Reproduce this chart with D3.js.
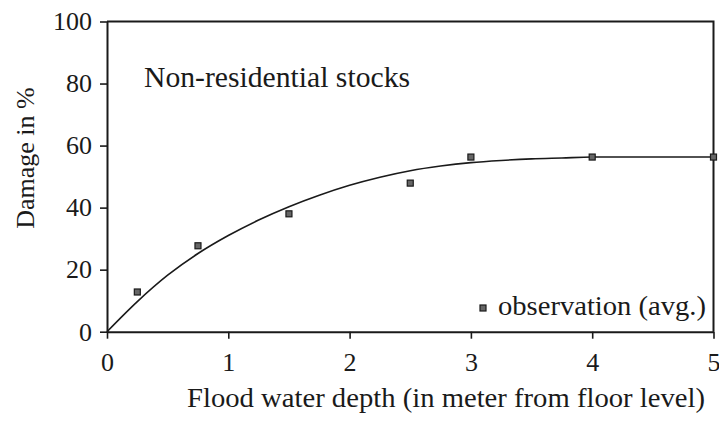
<!DOCTYPE html>
<html>
<head>
<meta charset="utf-8">
<script src="https://cdn.jsdelivr.net/npm/d3@7"></script>
<style>
  html, body { margin: 0; padding: 0; background: #fff; }
  svg { display: block; }
  text { font-family: "Liberation Serif", "Times New Roman", serif; fill: #1a1a1a; }
</style>
</head>
<body>
<svg id="chart" width="719" height="421"></svg>
<script>
// Depth-damage function for non-residential stocks
const depthTicks = [0, 1, 2, 3, 4, 5];
const damageTicks = [0, 20, 40, 60, 80, 100];

// Averaged observations (depth in m, damage in %)
const obsDepth = [0.25, 0.75, 1.5, 2.5, 3, 4, 5];
const obsDamage = [12.8, 27.7, 38, 47.9, 56.3, 56.3, 56.3];

// Fitted damage curve
const curveDepth = [0, 0.25, 0.5, 0.75, 1, 1.25, 1.5, 1.75, 2, 2.25, 2.5, 2.75, 3, 3.25, 3.5, 3.75, 4, 4.5, 5];
const curveDamage = [0, 9.7, 18.2, 25.2, 31.0, 36.0, 40.3, 44.0, 47.2, 49.8, 51.9, 53.4, 54.5, 55.2, 55.7, 56.0, 56.3, 56.3, 56.3];

const svg = d3.select("#chart");
const plotLeft = 107, plotRight = 713.5, plotTop = 21.5, plotBottom = 331.7;

const x = d3.scaleLinear().domain([0, 5]).range([plotLeft, plotRight]);
const y = d3.scaleLinear().domain([0, 100]).range([plotBottom, plotTop]);

const ink = "#1a1a1a";

// Frame (top and right edges)
svg.append("path")
  .attr("d", `M${plotLeft},${plotTop}H${plotRight}V${plotBottom}`)
  .attr("fill", "none").attr("stroke", ink).attr("stroke-width", 2);

// Y axis
const yAxis = svg.append("g")
  .attr("transform", `translate(${plotLeft},0)`)
  .call(d3.axisLeft(y).tickValues(damageTicks).tickFormat(d3.format("d"))
    .tickSize(7).tickPadding(8).tickSizeOuter(0));
yAxis.select(".domain").attr("stroke", ink).attr("stroke-width", 2);
yAxis.selectAll(".tick line").attr("stroke", ink).attr("stroke-width", 1.6);
yAxis.selectAll(".tick text").attr("font-size", 26).attr("font-family", "Liberation Serif").attr("fill", ink);

// X axis
const xAxis = svg.append("g")
  .attr("transform", `translate(0,${plotBottom})`)
  .call(d3.axisBottom(x).tickValues(depthTicks).tickFormat(d3.format("d"))
    .tickSize(7).tickPadding(14).tickSizeOuter(0));
xAxis.select(".domain").attr("stroke", ink).attr("stroke-width", 2);
xAxis.selectAll(".tick line").attr("stroke", ink).attr("stroke-width", 1.6);
xAxis.selectAll(".tick text").attr("font-size", 26).attr("font-family", "Liberation Serif").attr("fill", ink);

// Fitted curve
const curveData = curveDepth.map((d, i) => ({ d, v: curveDamage[i] }));
svg.append("path")
  .datum(curveData)
  .attr("fill", "none")
  .attr("stroke", ink)
  .attr("stroke-width", 1.6)
  .attr("d", d3.line().x(p => x(p.d)).y(p => y(p.v)).curve(d3.curveMonotoneX));

// Observation markers
const obsData = obsDepth.map((d, i) => ({ d, v: obsDamage[i] }));
const s = 6;
svg.append("g").selectAll("rect")
  .data(obsData)
  .join("rect")
  .attr("x", p => x(p.d) - s / 2)
  .attr("y", p => y(p.v) - s / 2)
  .attr("width", s).attr("height", s)
  .attr("fill", "#666").attr("stroke", ink).attr("stroke-width", 1.2);

// Panel title
svg.append("text")
  .attr("x", 144).attr("y", 87)
  .attr("font-size", 29)
  .attr("textLength", 266).attr("lengthAdjust", "spacingAndGlyphs")
  .text("Non-residential stocks");

// Legend
svg.append("rect")
  .attr("x", 483 - s / 2).attr("y", 308 - s / 2)
  .attr("width", s).attr("height", s)
  .attr("fill", "#666").attr("stroke", ink).attr("stroke-width", 1.2);
svg.append("text")
  .attr("x", 498).attr("y", 315)
  .attr("font-size", 28)
  .attr("textLength", 208).attr("lengthAdjust", "spacingAndGlyphs")
  .text("observation (avg.)");

// Axis titles
svg.append("text")
  .attr("x", 187).attr("y", 407)
  .attr("font-size", 28)
  .attr("textLength", 518).attr("lengthAdjust", "spacingAndGlyphs")
  .text("Flood water depth (in meter from floor level)");

svg.append("text")
  .attr("transform", "translate(34,158) rotate(-90)")
  .attr("text-anchor", "middle")
  .attr("font-size", 26)
  .text("Damage in %");
</script>
</body>
</html>
